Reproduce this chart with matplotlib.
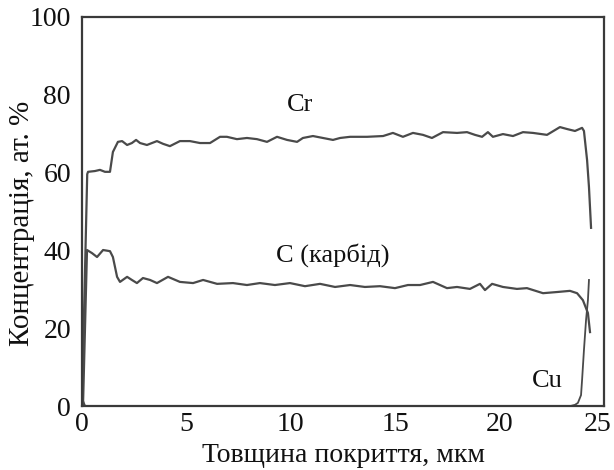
import matplotlib
matplotlib.use("Agg")
import matplotlib.pyplot as plt
from matplotlib.transforms import ScaledTranslation

plt.rcParams['font.family'] = ['Liberation Serif', 'DejaVu Serif']

# Cr profile
cr_x = [0.0, 0.25, 0.29, 0.62, 0.86, 1.10, 1.34, 1.48, 1.72, 1.92, 2.16, 2.39, 2.59, 2.78,
        3.11, 3.59, 3.88, 4.21, 4.69, 5.17, 5.65, 6.13, 6.61, 6.94, 7.42, 7.90, 8.38, 8.86,
        9.34, 9.82, 10.30, 10.58, 11.06, 11.54, 12.02, 12.36, 12.84, 13.65, 14.42, 14.89,
        15.37, 15.85, 16.33, 16.76, 17.29, 17.96, 18.44, 18.82, 19.16, 19.44, 19.68, 20.16,
        20.64, 21.12, 21.60, 22.27, 22.89, 23.23, 23.61, 23.95, 24.04, 24.19, 24.28, 24.38]
cr_y = [1.0, 59.6, 60.2, 60.4, 60.7, 60.2, 60.2, 65.3, 67.9, 68.1, 67.1, 67.6, 68.4, 67.6,
        67.1, 68.1, 67.4, 66.8, 68.1, 68.1, 67.6, 67.6, 69.2, 69.2, 68.6, 68.9, 68.6, 67.9,
        69.2, 68.4, 67.9, 68.9, 69.4, 68.9, 68.4, 68.9, 69.2, 69.2, 69.4, 70.2,
        69.2, 70.2, 69.7, 68.9, 70.4, 70.2, 70.4, 69.7, 69.2, 70.4, 69.2, 69.9,
        69.4, 70.4, 70.2, 69.7, 71.7, 71.2, 70.7, 71.5, 70.7, 63.2, 56.3, 45.8]

# C (carbide) profile
c_x = [0.05, 0.24, 0.48, 0.72, 1.01, 1.34, 1.48, 1.68, 1.82, 2.16, 2.39, 2.63, 2.92, 3.26,
       3.59, 4.12, 4.69, 5.32, 5.80, 6.47, 7.23, 7.90, 8.52, 9.24, 9.96, 10.68, 11.40,
       12.12, 12.84, 13.55, 14.27, 14.99, 15.61, 16.19, 16.81, 17.48, 17.96, 18.58, 19.06,
       19.30, 19.64, 20.16, 20.83, 21.31, 22.08, 22.75, 23.37, 23.71, 23.99, 24.23, 24.33]
c_y = [0.5, 40.1, 39.3, 38.3, 40.1, 39.8, 38.3, 33.2, 31.9, 33.2, 32.4, 31.6, 32.9, 32.4,
       31.6, 33.2, 31.9, 31.6, 32.4, 31.4, 31.6, 31.1, 31.6, 31.1, 31.6, 30.8, 31.4,
       30.6, 31.1, 30.6, 30.8, 30.3, 31.1, 31.1, 31.9, 30.3, 30.6, 30.1, 31.4,
       29.8, 31.4, 30.6, 30.1, 30.3, 29.0, 29.3, 29.6, 29.0, 27.2, 23.9, 19.0]

# Cu profile
cu_x = [0.0, 0.15, 23.40, 23.61, 23.75, 23.90, 23.95, 24.04, 24.14, 24.23, 24.28]
cu_y = [2.0, 0.0, 0.0, 0.3, 0.8, 2.8, 6.7, 14.4, 22.1, 27.2, 32.4]

x_ticks = [0, 5, 10, 15, 20, 25]
y_ticks = [0, 20, 40, 60, 80, 100]

line_color = '#4a4a4a'
text_color = '#111111'

fig = plt.figure(figsize=(6.14, 4.70), dpi=100)
ax = fig.add_axes([82/614, 64/470, 522/614, 389/470])

ax.plot(cr_x, cr_y, color=line_color, lw=1.6)
ax.plot(c_x, c_y, color=line_color, lw=1.6)
ax.plot(cu_x, cu_y, color=line_color, lw=1.3)

ax.set_xlim(0, 25)
ax.set_ylim(0, 100)
ax.set_xticks(x_ticks)
ax.set_yticks(y_ticks)
ax.tick_params(length=0, labelsize=20, colors=text_color)
ax.tick_params(axis='y', pad=8)
ax.tick_params(axis='x', pad=4)
for s in ax.spines.values():
    s.set_color('#3a3a3a')
    s.set_linewidth(1.6)

# nudge the last x tick label slightly left so it stays inside the figure
fig.canvas.draw()
last = ax.get_xticklabels()[-1]
last.set_transform(last.get_transform() + ScaledTranslation(-6/100, 0, fig.dpi_scale_trans))

ax.text(10.45, 77.4, 'Cr', fontsize=19, ha='center', va='center', color=text_color)
ax.text(12.0, 38.8, 'C (карбід)', fontsize=19, ha='center', va='center', color=text_color)
ax.text(22.3, 6.5, 'Cu', fontsize=19, ha='center', va='center', color=text_color)

ax.set_xlabel('Товщина покриття, мкм', fontsize=20, color=text_color, labelpad=5)
ax.set_ylabel('Концентрація, ат. %', fontsize=21, color=text_color)
ax.yaxis.set_label_coords(-0.09, 0.47)

fig.savefig('out.png', dpi=100)
